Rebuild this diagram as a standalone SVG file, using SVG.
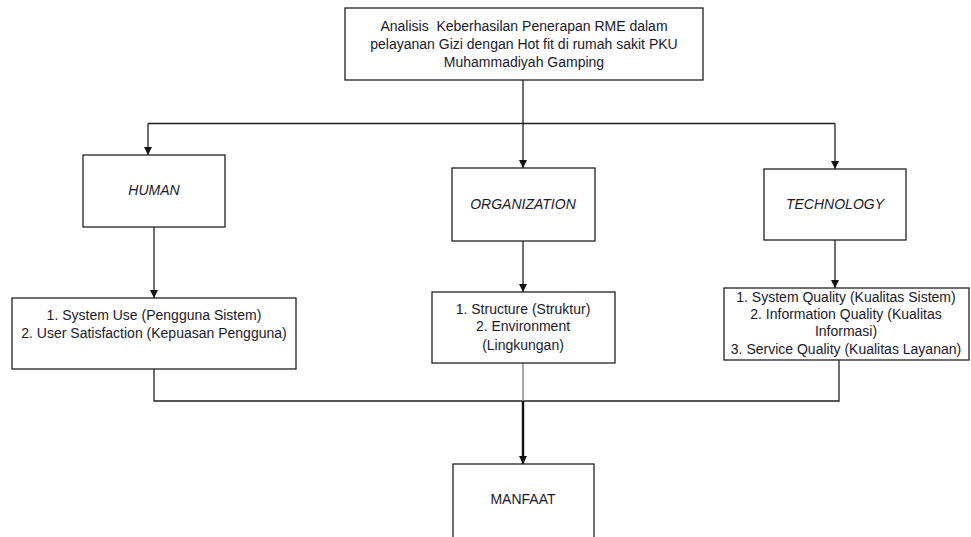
<svg xmlns="http://www.w3.org/2000/svg" width="971" height="537" viewBox="0 0 971 537">
<defs>
<style>
.box{fill:#fff;stroke:#222;stroke-width:1.3}
.t{font-family:"Liberation Sans",Arial,sans-serif;font-size:14px;fill:#1a1a2a;text-anchor:middle;white-space:pre}
.i{font-style:italic}
.c{fill:none;stroke:#222;stroke-width:1.3}
.g{fill:none;stroke:#777;stroke-width:1.3}
</style>
<marker id="ah" viewBox="0 0 10 10" refX="10" refY="5" markerWidth="8" markerHeight="8" markerUnits="userSpaceOnUse" orient="auto">
<path d="M0,0 L10,5 L0,10 z" fill="#111"/>
</marker>
</defs>
<rect width="971" height="537" fill="#fff"/>
<g id="connectors">
<path class="c" d="M523,80 V123.5"/>
<path class="c" d="M148,123.5 H835"/>
<path class="c" d="M148,123.5 V155" marker-end="url(#ah)"/>
<path class="c" d="M523,123.5 V168" marker-end="url(#ah)"/>
<path class="c" d="M835,123.5 V169" marker-end="url(#ah)"/>
<path class="c" d="M154,227 V298" marker-end="url(#ah)"/>
<path class="c" d="M523,241 V292" marker-end="url(#ah)"/>
<path class="c" d="M835,240 V288" marker-end="url(#ah)"/>
<path class="c" d="M154,369 V401 H839 V360"/>
<path class="g" d="M523,363 V401"/>
<path d="M523,401 V464" fill="none" stroke="#111" stroke-width="2.4" marker-end="url(#ah)"/>
</g>
<g id="top">
<rect class="box" x="345" y="8" width="358" height="72"/>
<text class="t" x="524" y="31" xml:space="preserve">Analisis  Keberhasilan Penerapan RME dalam</text>
<text class="t" x="524" y="49">pelayanan Gizi dengan Hot fit di rumah sakit PKU</text>
<text class="t" x="524" y="67">Muhammadiyah Gamping</text>
</g>
<g id="human">
<rect class="box" x="83" y="155" width="142" height="72"/>
<text class="t i" x="154" y="195">HUMAN</text>
</g>
<g id="organization">
<rect class="box" x="452" y="168" width="143" height="73"/>
<text class="t i" x="523" y="209">ORGANIZATION</text>
</g>
<g id="technology">
<rect class="box" x="764" y="169" width="142" height="71"/>
<text class="t i" x="835" y="209">TECHNOLOGY</text>
</g>
<g id="human-items">
<rect class="box" x="12" y="298" width="284" height="71"/>
<text class="t" x="154" y="320">1. System Use (Pengguna Sistem)</text>
<text class="t" x="154" y="338">2. User Satisfaction (Kepuasan Pengguna)</text>
</g>
<g id="org-items">
<rect class="box" x="432" y="292" width="183" height="71"/>
<text class="t" x="523" y="314">1. Structure (Struktur)</text>
<text class="t" x="523" y="331">2. Environment</text>
<text class="t" x="523" y="350">(Lingkungan)</text>
</g>
<g id="tech-items">
<rect class="box" x="724" y="288" width="245" height="72"/>
<text class="t" x="846" y="302">1. System Quality (Kualitas Sistem)</text>
<text class="t" x="846" y="319">2. Information Quality (Kualitas</text>
<text class="t" x="846" y="336">Informasi)</text>
<text class="t" x="846" y="354">3. Service Quality (Kualitas Layanan)</text>
</g>
<g id="manfaat">
<rect class="box" x="453" y="464" width="141" height="80"/>
<text class="t" x="523" y="504">MANFAAT</text>
</g>
</svg>
